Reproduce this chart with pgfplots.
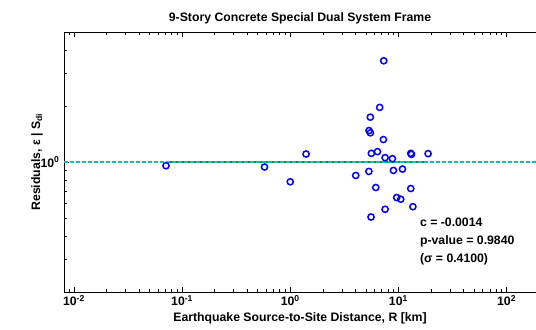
\documentclass[border=0pt]{standalone}
\usepackage{pgfplots}
\pgfplotsset{compat=1.18}
\usepackage{fontspec}
\setmainfont{Liberation Sans}
\definecolor{mblue}{rgb}{0,0,1}
\definecolor{mcyan}{rgb}{0.05,0.75,0.75}
\definecolor{mgreen}{rgb}{0.1,0.55,0.15}
\newcommand{\ff}{\fontsize{12.3}{14}\selectfont\bfseries}
\begin{document}
\begin{tikzpicture}[x=1bp,y=1bp]
\begin{axis}[
  at={(64bp,37bp)}, anchor=south west,
  scale only axis, width=472bp, height=260bp,
  xmode=log, ymode=log,
  xmin=0.0081, xmax=187, ymin=0.2, ymax=5,
  axis x line=box, axis y line*=left,
  axis line style={line width=0.9pt},
  /pgf/number format/assume math mode=true,
  ytick={1}, yticklabels={10\textsuperscript{0}},
  minor ytick={0.2,0.3,0.4,0.5,0.6,0.7,0.8,0.9,2,3,4,5},
  xtick={0.01,0.1,1,10,100},
  xticklabels={10\textsuperscript{-2},10\textsuperscript{-1},10\textsuperscript{0},10\textsuperscript{1},10\textsuperscript{2}},
  minor xtick={0.009,0.02,0.03,0.04,0.05,0.06,0.07,0.08,0.09,0.2,0.3,0.4,0.5,0.6,0.7,0.8,0.9,2,3,4,5,6,7,8,9,20,30,40,50,60,70,80,90},
  tick align=inside, major tick length=5bp, minor tick length=3bp,
  tick style={black, line width=0.6pt},
  ticklabel style={font=\ff},
  xticklabel style={yshift=0bp},
  yticklabel style={xshift=-1bp},
  title={9-Story Concrete Special Dual System Frame},
  title style={font=\ff, yshift=-2bp},
  xlabel={Earthquake Source-to-Site Distance, R [km]},
  xlabel style={font=\ff, yshift=0bp},
  ylabel={Residuals, ε | S\textsubscript{di}},
  ylabel style={font=\ff, yshift=-9bp},
  clip=false,
]
\addplot[mgreen, line width=2pt, forget plot] coordinates {(0.071,0.997) (18.8,0.997)};
\addplot[mcyan, line width=1.4pt, dash pattern=on 4bp off 2bp, forget plot] coordinates {(0.0081,1) (187,1)};
\addplot[only marks, mark=o, mark size=3.1bp, mblue, mark options={line width=1.5pt}] coordinates {
(7.31,3.50) (6.71,1.966) (5.5,1.742) (5.35,1.476) (5.5,1.435) (7.26,1.32)
(1.40,1.104) (5.62,1.113) (6.4,1.137) (7.53,1.055) (8.8,1.042)
(13.0,1.113) (13.2,1.099) (18.8,1.109)
(0.071,0.955) (0.578,0.94) (1.0,0.783) (4.03,0.846) (5.33,0.89)
(8.99,0.901) (10.9,0.916) (6.17,0.729) (13.0,0.72) (9.64,0.644)
(10.5,0.631) (7.53,0.557) (13.6,0.575) (5.58,0.506)
};
\node[anchor=north west, align=left, font=\fontsize{12.3}{18}\selectfont\bfseries, inner sep=0pt] at (rel axis cs:0.754,0.285) {c = -0.0014\\p-value = 0.9840\\(σ = 0.4100)};
\end{axis}
\pgfresetboundingbox
\path[use as bounding box] (0,0) rectangle (536,329);
\end{tikzpicture}
\end{document}
